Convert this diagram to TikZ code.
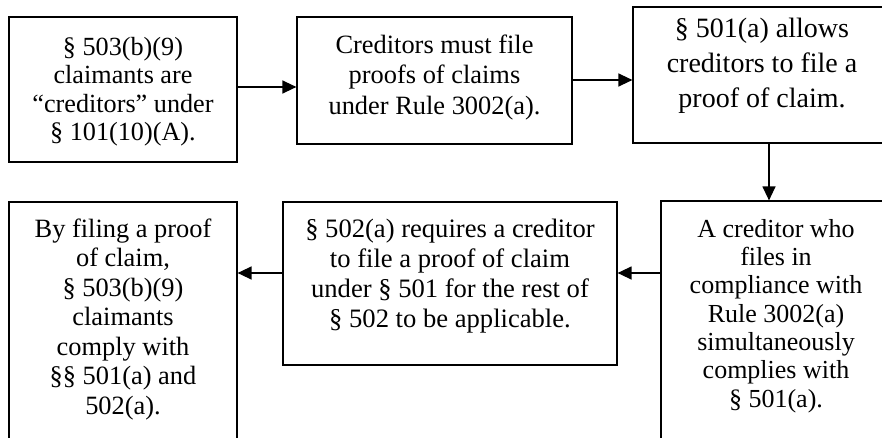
\documentclass[tikz,border=0pt]{standalone}
\usepackage{fontspec}
\setmainfont{Liberation Serif}
\usetikzlibrary{arrows.meta}
\tikzset{
  box/.style={draw, line width=1.2pt, inner sep=0pt},
  txt/.style={anchor=north, align=center, inner sep=0pt},
  arr/.style={line width=1.3pt, -{Triangle[length=14pt,width=13pt]}}
}
\newcommand{\fs}[2]{\fontsize{#1pt}{#2pt}\selectfont}
\newcommand{\st}{\rule{0pt}{20pt}}
\begin{document}
\begin{tikzpicture}[x=1pt,y=-1pt]
\useasboundingbox (0,0) rectangle (882,438);
\clip (0,0) rectangle (882,438);
% boxes
\node[box, minimum width=228pt, minimum height=145pt] (b1) at (123,89.5) {};
\node[box, minimum width=275pt, minimum height=127pt] (b2) at (434.5,80.5) {};
\node[box, minimum width=258pt, minimum height=136pt] (b3) at (762,75) {};
\node[box, minimum width=228pt, minimum height=268pt] (b4) at (123,336) {};
\node[box, minimum width=334pt, minimum height=163pt] (b5) at (450,283.5) {};
\node[box, minimum width=230pt, minimum height=269pt] (b6) at (776,335.5) {};
% texts
\node[txt, font=\fs{26.2}{28.5}] (t1) at (123,35) {\st§ 503(b)(9)\\claimants are\\“creditors” under\\§ 101(10)(A).};
\node[txt, font=\fs{26.4}{30.5}] (t2) at (434.5,33) {\st Creditors must file\\proofs of claims\\under Rule 3002(a).};
\node[txt, font=\fs{28}{35}] (t3) at (762,17) {\st§ 501(a) allows\\creditors to file a\\proof of claim.};
\node[txt, font=\fs{26.4}{29.5}] (t4) at (123,217) {\st By filing a proof\\of claim,\\§ 503(b)(9)\\claimants\\comply with\\§§ 501(a) and\\502(a).};
\node[txt, font=\fs{26.6}{30}] (t5) at (450,217) {\st§ 502(a) requires a creditor\\to file a proof of claim\\under § 501 for the rest of\\§ 502 to be applicable.};
\node[txt, font=\fs{26}{28.3}] (t6) at (776,217) {\st A creditor who\\files in\\compliance with\\Rule 3002(a)\\simultaneously\\complies with\\§ 501(a).};
% connectors
\coordinate (y1) at (0,87);
\coordinate (y2) at (0,80);
\coordinate (y3) at (0,273);
\coordinate (x3) at (769,0);
\draw[arr] (b1.east |- y1) -- (b2.west |- y1);
\draw[arr] (b2.east |- y2) -- (b3.west |- y2);
\draw[arr] (x3 |- b3.south) -- (x3 |- b6.north);
\draw[arr] (b6.west |- y3) -- (b5.east |- y3);
\draw[arr] (b5.west |- y3) -- (b4.east |- y3);
\end{tikzpicture}
\end{document}
